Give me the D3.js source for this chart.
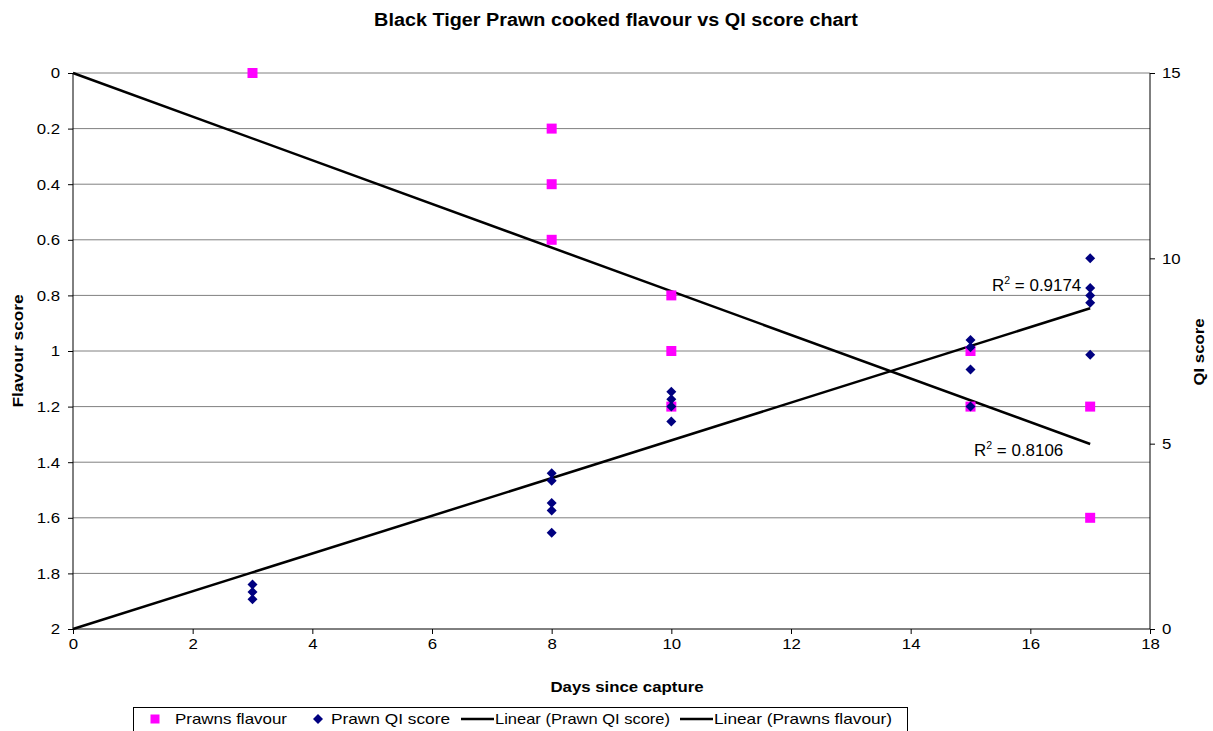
<!DOCTYPE html>
<html>
<head>
<meta charset="utf-8">
<script src="https://cdn.jsdelivr.net/npm/d3@7"></script>
<style>
  body { margin: 0; background: #fff; }
  svg { font-family: "Liberation Sans", Arial, sans-serif; }
</style>
</head>
<body>
<svg id="chart" width="1213" height="731"></svg>
<script>
// Flavour scores (left axis, 0 at top)
const flavourDays   = [3, 8, 8, 8, 10, 10, 10, 15, 15, 17, 17];
const flavourScores = [0, 0.2, 0.4, 0.6, 0.8, 1.0, 1.2, 1.0, 1.2, 1.2, 1.6];

// QI scores (right axis)
const qiDays   = [3, 3, 3, 8, 8, 8, 8, 8, 10, 10, 10, 10, 15, 15, 15, 15, 17, 17, 17, 17, 17];
const qiScores = [1.2, 1.0, 0.8, 4.2, 4.0, 3.4, 3.2, 2.6, 6.4, 6.2, 6.0, 5.6, 7.8, 7.6, 7.0, 6.0, 10.0, 9.2, 9.0, 8.8, 7.4];

// Linear trend coefficients (slope, intercept) and R² values
const qiTrend      = { slope: 0.509, intercept: 0.0, r2: "0.9174" };
const flavourTrend = { slope: 0.0785, intercept: 0.0, r2: "0.8106" };
const trendRange   = [0, 17];

// Axis ticks
const xTicks       = [0, 2, 4, 6, 8, 10, 12, 14, 16, 18];
const flavourTicks = [0, 0.2, 0.4, 0.6, 0.8, 1, 1.2, 1.4, 1.6, 1.8, 2];
const qiTicks      = [0, 5, 10, 15];

const svg = d3.select("#chart");
const L = 73, R = 1150, T = 73, B = 629;

const x  = d3.scaleLinear().domain([0, 18]).range([L, R]);
const yF = d3.scaleLinear().domain([0, 2]).range([T, B]);
const yQ = d3.scaleLinear().domain([0, 15]).range([B, T]);

// Widen text glyphs horizontally by factor k
function stretch(sel, k) {
  sel.each(function () {
    const w = this.getComputedTextLength();
    this.setAttribute("textLength", w * k);
    this.setAttribute("lengthAdjust", "spacingAndGlyphs");
  });
  return sel;
}

// Title
stretch(svg.append("text").attr("x", 616).attr("y", 26).attr("text-anchor", "middle")
  .attr("font-size", 18).attr("font-weight", "bold")
  .text("Black Tiger Prawn cooked flavour vs QI score chart"), 1.1);

// Horizontal gridlines
svg.append("g").selectAll("line").data(flavourTicks.slice(0, -1)).join("line")
  .attr("x1", L).attr("x2", R)
  .attr("y1", d => yF(d)).attr("y2", d => yF(d))
  .attr("stroke", "#808080").attr("stroke-width", 1);

// Axes
const xAxis = svg.append("g").attr("transform", `translate(0,${B})`)
  .call(d3.axisBottom(x).tickValues(xTicks).tickSize(5).tickPadding(4));
const yAxisL = svg.append("g").attr("transform", `translate(${L},0)`)
  .call(d3.axisLeft(yF).tickValues(flavourTicks).tickFormat(d3.format("~g")).tickSize(5).tickPadding(8));
const yAxisR = svg.append("g").attr("transform", `translate(${R},0)`)
  .call(d3.axisRight(yQ).tickValues(qiTicks).tickSize(5).tickPadding(7));

[xAxis, yAxisL, yAxisR].forEach(g => {
  g.select(".domain").attr("stroke", "#000").attr("stroke-width", 1);
  g.selectAll(".tick line").attr("stroke", "#000");
  const t = g.selectAll(".tick text").attr("font-size", 15).attr("fill", "#000")
    .attr("font-family", "Liberation Sans, Arial, sans-serif");
  stretch(t, 1.12);
});
xAxis.select(".domain").attr("d", `M${L},0H${R}`);
yAxisL.select(".domain").attr("d", `M0,${T}V${B}`);
yAxisR.select(".domain").attr("d", `M0,${T}V${B}`);

// Axis titles
stretch(svg.append("text").attr("x", 627).attr("y", 692).attr("text-anchor", "middle")
  .attr("font-size", 15).attr("font-weight", "bold").text("Days since capture"), 1.12);
stretch(svg.append("text").attr("transform", "translate(23,351) rotate(-90)")
  .attr("text-anchor", "middle").attr("font-size", 15).attr("font-weight", "bold")
  .text("Flavour score"), 1.15);
stretch(svg.append("text").attr("transform", "translate(1204,352) rotate(-90)")
  .attr("text-anchor", "middle").attr("font-size", 15).attr("font-weight", "bold")
  .text("QI score"), 1.12);

// Trend lines
const qiLine = d3.line().x(d => x(d)).y(d => yQ(qiTrend.intercept + qiTrend.slope * d));
const flLine = d3.line().x(d => x(d)).y(d => yF(flavourTrend.intercept + flavourTrend.slope * d));
svg.append("path").attr("d", qiLine(trendRange)).attr("fill", "none")
  .attr("stroke", "#000").attr("stroke-width", 2.5);
svg.append("path").attr("d", flLine(trendRange)).attr("fill", "none")
  .attr("stroke", "#000").attr("stroke-width", 2.5);

// Flavour markers (squares)
const sq = 10;
svg.append("g").selectAll("rect").data(flavourDays.map((d, i) => [d, flavourScores[i]])).join("rect")
  .attr("x", d => x(d[0]) - sq / 2).attr("y", d => yF(d[1]) - sq / 2)
  .attr("width", sq).attr("height", sq).attr("fill", "#FF00FF");

// QI markers (diamonds)
const diamond = d3.symbol().type(d3.symbolSquare).size(50);
svg.append("g").selectAll("path").data(qiDays.map((d, i) => [d, qiScores[i]])).join("path")
  .attr("d", diamond)
  .attr("transform", d => `translate(${x(d[0])},${yQ(d[1])}) rotate(45)`)
  .attr("fill", "#000080");

// R² labels
function r2Label(px, py, val) {
  const t = svg.append("text").attr("transform", `translate(${px},${py}) scale(1.06,1)`)
    .attr("font-size", 16).attr("fill", "#000");
  t.append("tspan").text("R");
  t.append("tspan").attr("font-size", 10).attr("dy", -7).text("2");
  t.append("tspan").attr("dy", 7).text(" = " + val);
}
r2Label(992, 291, qiTrend.r2);
r2Label(974, 456, flavourTrend.r2);

// Legend
const lg = svg.append("g");
lg.append("rect").attr("x", 133.5).attr("y", 707.5).attr("width", 774).attr("height", 30)
  .attr("fill", "#fff").attr("stroke", "#000").attr("stroke-width", 1);
const ly = 719;
function legendText(px, w, s) {
  lg.append("text").attr("x", px).attr("y", ly + 5).attr("font-size", 15)
    .attr("textLength", w).attr("lengthAdjust", "spacingAndGlyphs").text(s);
}
lg.append("rect").attr("x", 155 - 4.5).attr("y", ly - 4.5).attr("width", 9).attr("height", 9).attr("fill", "#FF00FF");
legendText(175, 112, "Prawns flavour");
lg.append("path").attr("d", diamond).attr("transform", `translate(318,${ly}) rotate(45)`).attr("fill", "#000080");
legendText(331, 119, "Prawn QI score");
lg.append("line").attr("x1", 461).attr("x2", 494).attr("y1", ly).attr("y2", ly).attr("stroke", "#000").attr("stroke-width", 2.5);
legendText(495, 175, "Linear (Prawn QI score)");
lg.append("line").attr("x1", 680).attr("x2", 713).attr("y1", ly).attr("y2", ly).attr("stroke", "#000").attr("stroke-width", 2.5);
legendText(714, 178, "Linear (Prawns flavour)");
</script>
</body>
</html>
